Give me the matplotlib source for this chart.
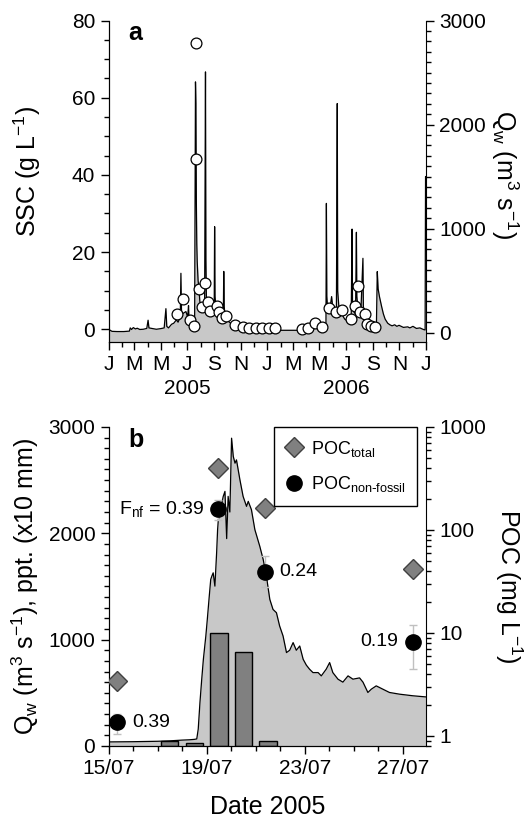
import numpy as np
import pandas as pd
import matplotlib
matplotlib.use('Agg')
import matplotlib.pyplot as plt
import matplotlib.dates as mdates
import matplotlib.transforms as mtransforms
from matplotlib.ticker import MultipleLocator, LogLocator, NullFormatter, FuncFormatter
from matplotlib.lines import Line2D

plt.rcParams['font.family'] = ['Liberation Sans', 'DejaVu Sans']
plt.rcParams['mathtext.default'] = 'regular'

#---------------------------------------------------------------
# panel a: daily water discharge (days since 1 Jan 2005, m3/s)
qa_day = [0, 8, 20, 35, 48, 50, 53, 57, 62, 66, 72, 80, 88, 91, 93, 100,
          110, 120, 128, 132, 134, 138, 145, 150, 156, 160, 165, 166.5, 168, 172, 178, 182,
          184, 185, 187, 192, 196, 198, 199, 200, 201, 202, 203, 204, 205, 206, 208, 210,
          213, 216, 219, 221, 223, 224, 225, 228, 232, 236, 240, 243, 244, 245, 247, 250,
          255, 260, 264, 265, 266, 268, 272, 278, 285, 292, 300, 310, 320, 335, 350, 365,
          380, 395, 410, 425, 440, 455, 462, 466, 470, 475, 482, 490, 497, 500, 501, 502,
          504, 508, 513, 516, 520, 524, 526, 527, 530, 536, 543, 550, 555, 558, 560, 561,
          564, 568, 570, 571, 574, 580, 585, 586, 590, 594, 600, 606, 612, 616, 618, 620,
          623, 628, 632, 636, 642, 647, 652, 658, 663, 668, 678, 688, 693, 700, 708, 716,
          724, 728, 729, 730]
qa_val = [32, 12, 10, 10, 14, 45, 30, 48, 35, 42, 30, 32, 40, 119, 45, 40,
          32, 38, 45, 230, 60, 45, 80, 90, 122, 100, 150, 570, 170, 186, 202, 150,
          260, 130, 120, 90, 100, 60, 1200, 2410, 2200, 1250, 850, 680, 600, 500, 420, 300,
          250, 220, 230, 260, 2506, 700, 350, 260, 230, 210, 190, 200, 1018, 350, 230, 200,
          180, 150, 160, 588, 250, 160, 120, 100, 75, 60, 50, 42, 35, 30, 28, 28,
          25, 22, 22, 22, 22, 35, 45, 75, 90, 70, 50, 50, 45, 80, 1242, 350,
          218, 200, 346, 230, 200, 180, 2202, 400, 230, 180, 130, 110, 100, 120, 995, 300,
          200, 180, 964, 350, 200, 170, 714, 250, 150, 110, 85, 70, 60, 70, 586, 420,
          346, 250, 180, 130, 90, 75, 65, 75, 60, 70, 50, 55, 45, 60, 40, 45,
          30, 25, 1500, 1500]

# suspended sediment concentration samples (g/L)
ssc_day = [158.5, 171, 187.4, 196, 200.4, 200.6, 207, 214.2, 222.5, 228.8, 234.5,
           248.7, 254.4, 261.8, 270.8, 290.8, 310, 324, 339, 353, 368, 382.8,
           444, 459.5, 474, 490, 507, 523, 538, 557, 566.7, 573, 578.2, 589, 595, 603, 613]
ssc_val = [3.9, 7.9, 2.4, 0.8, 74.2, 44.0, 10.5, 5.7, 12.1, 7.0, 4.6,
           6.0, 4.5, 2.8, 3.3, 1.2, 0.5, 0.35, 0.2, 0.2, 0.25, 0.25,
           0.1, 0.26, 1.5, 0.5, 5.6, 4.4, 5.0, 2.6, 6.0, 11.1, 4.5, 4.0, 1.3, 0.85, 0.6]

#---------------------------------------------------------------
# panel b: storm of July 2005 (days since 15 Jul 2005)
qb_day = [0.0, 1.0, 2.0, 2.5, 3.0, 3.3, 3.5, 3.6, 3.66, 3.73, 3.8, 3.87, 3.97, 4.03, 4.11,
          4.17, 4.22, 4.27, 4.34, 4.41, 4.45, 4.48, 4.55, 4.61, 4.68, 4.75, 4.82, 4.88, 4.95, 5.02,
          5.09, 5.16, 5.22, 5.36, 5.49, 5.63, 5.7, 5.83, 5.97, 6.17, 6.31, 6.44, 6.58, 6.71, 6.85,
          6.98, 7.12, 7.26, 7.39, 7.53, 7.66, 7.8, 7.94, 8.07, 8.2, 8.34, 8.55, 8.68, 8.88, 9.02,
          9.15, 9.36, 9.56, 9.77, 9.97, 10.24, 10.38, 10.58, 10.72, 10.92, 11.19, 11.46, 11.87, 12.41, 13.0]
qb_val = [38, 40, 44, 48, 55, 58, 62, 66, 159, 409, 620, 816, 1034, 1190, 1409,
          1566, 1600, 1628, 1503, 1816, 2034, 2128, 2190, 2269, 2347, 2394, 1950, 2347, 2200, 2894,
          2722, 2659, 2690, 2503, 2347, 2253, 2300, 2222, 2034, 1878, 1753, 1597, 1378, 1284, 1253,
          1128, 1034, 878, 900, 972, 900, 940, 815, 760, 722, 690, 690, 659, 722, 784,
          690, 628, 600, 659, 628, 640, 600, 503, 534, 565, 534, 503, 487, 472, 460]

# daily precipitation (x10 mm)
ppt_day = [2.5, 3.5, 4.5, 5.5, 6.5]
ppt_val = [50, 30, 1065, 880, 50]

# POC samples (mg/L)
poc_day = [0.36, 4.45, 6.40, 12.42]
poc_total = [3.44, 398, 165, 42]
poc_nf = [1.36, 160, 39.3, 8.2]
poc_nf_lo = [1.05, 125, 28, 4.5]
poc_nf_hi = [1.64, 194, 55.6, 11.9]
fnf_lab = ['0.39', 'F$_{nf}$ = 0.39', '0.24', '0.19']

#---------------------------------------------------------------
start_a = pd.Timestamp('2005-01-01')
xa = mdates.date2num((start_a + pd.to_timedelta(qa_day, unit='D')).to_pydatetime())
xs = mdates.date2num((start_a + pd.to_timedelta(ssc_day, unit='D')).to_pydatetime())

start_b = pd.Timestamp('2005-07-15')
xb = mdates.date2num((start_b + pd.to_timedelta(qb_day, unit='D')).to_pydatetime())
xp = mdates.date2num((start_b + pd.to_timedelta(ppt_day, unit='D')).to_pydatetime())
xc = mdates.date2num((start_b + pd.to_timedelta(poc_day, unit='D')).to_pydatetime())

fig = plt.figure(figsize=(5.28, 8.21), dpi=100)

tick_fs = 15
lab_fs = 18

#---------------- panel a
axa = fig.add_axes([0.2055, 0.584, 0.6013, 0.391])
axa2 = axa.twinx()
axa2.fill_between(xa, qa_val, -86, color='#c8c8c8', lw=0)
axa2.plot(xa, qa_val, color='k', lw=0.9)
axa2.set_ylim(-86, 3000)
axa.set_zorder(axa2.get_zorder() + 1)
axa.patch.set_visible(False)

axa.plot(xs, ssc_val, 'o', mfc='white', mec='k', ms=7.8, mew=0.9, ls='none')
axa.set_ylim(-3.2, 80)
axa.set_xlim(mdates.date2num(pd.Timestamp('2005-01-01')), mdates.date2num(pd.Timestamp('2007-01-01')))

axa.xaxis.set_major_locator(mdates.MonthLocator(bymonth=[1, 3, 5, 7, 9, 11]))
axa.xaxis.set_minor_locator(mdates.MonthLocator())
axa.xaxis.set_major_formatter(FuncFormatter(lambda x, p: mdates.num2date(x).strftime('%b')[0]))
axa.yaxis.set_major_locator(MultipleLocator(20))
axa.yaxis.set_minor_locator(MultipleLocator(5))
axa2.yaxis.set_major_locator(MultipleLocator(1000))
axa2.yaxis.set_minor_locator(MultipleLocator(100))

for ax in [axa, axa2]:
    ax.spines['top'].set_visible(False)
    ax.tick_params(which='major', direction='out', length=6, width=1, labelsize=tick_fs)
    ax.tick_params(which='minor', direction='out', length=3.5, width=1)
axa.spines['right'].set_visible(False)

axa.set_ylabel('SSC (g L$^{-1}$)', fontsize=lab_fs)
axa.yaxis.set_label_coords(-0.206, 0.53)
axa2.set_ylabel('Q$_w$ (m$^3$ s$^{-1}$)', fontsize=lab_fs, rotation=270, va='bottom')
axa2.yaxis.set_label_coords(1.199, 0.52)

trans = mtransforms.blended_transform_factory(axa.transData, axa.transAxes)
for yr in ['2005', '2006']:
    axa.text(mdates.date2num(pd.Timestamp(yr + '-07-01')), -0.145, yr, transform=trans,
             ha='center', va='center', fontsize=tick_fs)
axa.text(0.061, 0.961, 'a', transform=axa.transAxes, fontsize=18, fontweight='bold', va='center')

#---------------- panel b
axb = fig.add_axes([0.2055, 0.0914, 0.6013, 0.3886])
axb2 = axb.twinx()
axb.fill_between(xb, qb_val, 0, color='#c8c8c8', lw=0)
axb.plot(xb, qb_val, color='k', lw=0.9)
axb.bar(xp, ppt_val, width=0.71, color='#808080', edgecolor='k', lw=1)
axb.set_ylim(0, 3000)
axb.set_xlim(mdates.date2num(start_b), mdates.date2num(start_b + pd.Timedelta(days=12.95)))

err = [np.array(poc_nf) - np.array(poc_nf_lo), np.array(poc_nf_hi) - np.array(poc_nf)]
axb2.errorbar(xc, poc_nf, yerr=err, fmt='none', ecolor='#c0c0c0', elinewidth=1, capsize=3, zorder=2)
axb2.plot(xc, poc_total, 'D', mfc='#808080', mec='#404040', ms=10, mew=1, ls='none', zorder=3)
axb2.plot(xc, poc_nf, 'o', color='k', ms=11, ls='none', zorder=3)
axb2.set_yscale('log')
axb2.set_ylim(0.8, 1000)

offs = [(11, 0, 'left'), (-10, 0, 'right'), (10, 0, 'left'), (-11, 0, 'right')]
for x, y, t, o in zip(xc, poc_nf, fnf_lab, offs):
    axb2.annotate(t, (x, y), xytext=(o[0], o[1]), textcoords='offset points',
                  ha=o[2], va='center', fontsize=14)

axb.xaxis.set_major_locator(mdates.DayLocator(bymonthday=[15, 19, 23, 27]))
axb.xaxis.set_minor_locator(mdates.DayLocator())
axb.xaxis.set_major_formatter(mdates.DateFormatter('%d/%m'))
axb.yaxis.set_major_locator(MultipleLocator(1000))
axb.yaxis.set_minor_locator(MultipleLocator(100))
axb2.yaxis.set_major_locator(LogLocator(base=10))
axb2.yaxis.set_minor_locator(LogLocator(base=10, subs=np.arange(2, 10)))
axb2.yaxis.set_minor_formatter(NullFormatter())
axb2.yaxis.set_major_formatter(FuncFormatter(lambda v, p: '%g' % v))

for ax in [axb, axb2]:
    ax.spines['top'].set_visible(False)
    ax.tick_params(which='major', direction='out', length=6, width=1, labelsize=tick_fs)
    ax.tick_params(which='minor', direction='out', length=3.5, width=1)
axb.spines['right'].set_visible(False)

axb.set_ylabel('Q$_w$ (m$^3$ s$^{-1}$), ppt. (x10 mm)', fontsize=lab_fs)
axb.yaxis.set_label_coords(-0.213, 0.5)
axb2.set_ylabel('POC (mg L$^{-1}$)', fontsize=lab_fs, rotation=270, va='bottom')
axb2.yaxis.set_label_coords(1.21, 0.5)
axb.set_xlabel('Date 2005', fontsize=lab_fs, labelpad=12)
axb.text(0.061, 0.959, 'b', transform=axb.transAxes, fontsize=18, fontweight='bold', va='center')

handles = [Line2D([], [], marker='D', ls='none', mfc='#808080', mec='#404040', ms=10),
           Line2D([], [], marker='o', ls='none', color='k', ms=11)]
leg = axb2.legend(handles, ['POC$_{total}$', 'POC$_{non\\text{-}fossil}$'], loc='upper right',
                  bbox_to_anchor=(0.9716, 1.0), borderaxespad=0, fancybox=False, edgecolor='k',
                  framealpha=1, fontsize=13, handletextpad=0.4, borderpad=0.65,
                  labelspacing=0.85, handlelength=1.0)
leg.get_frame().set_linewidth(1.0)

fig.savefig('out.png', dpi=100)
